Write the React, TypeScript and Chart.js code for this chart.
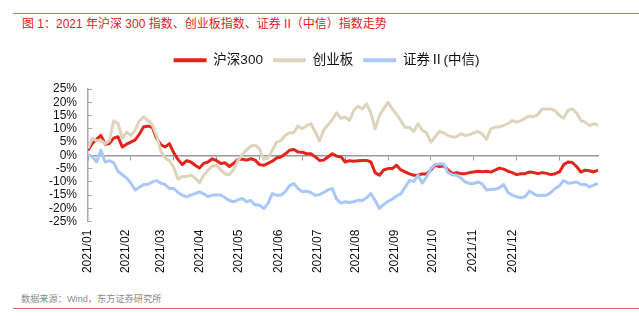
import React, { useEffect, useRef } from "react";
import { Chart, registerables } from "chart.js";

Chart.register(...registerables);

// x-axis: trading-day index (0..LAST_DAY), one sample every SAMPLE_STEP days
const LAST_DAY = 238;
const SAMPLE_STEP = 2;
const monthLabels = [
  "2021/01", "2021/02", "2021/03", "2021/04", "2021/05", "2021/06",
  "2021/07", "2021/08", "2021/09", "2021/10", "2021/11", "2021/12",
];
const monthLabelDays = [0, 17.5, 34, 52, 70.5, 89, 107, 125, 143, 161, 179.5, 198];
const zeroLineTickStep = 20;
const yTickValues = [-25, -20, -15, -10, -5, 0, 5, 10, 15, 20, 25];

const seriesNames = ["沪深300", "创业板", "证券Ⅱ(中信)"];

// cumulative change, %
const hs300 = [
  1.9, 4.5, 6, 7.5, 4.2, 4.5, 6.5, 7, 3.2, 4.2,
  5, 5.8, 8, 10.8, 11, 10.6, 6.5, 4, 3.2, 4.4,
  1, -1.5, -3.5, -2, -2.5, -3.75, -4.8, -3, -2.5, -1.3,
  -2, -3.1, -2.8, -4.2, -3, -1.5, -1.5, -1.8, -1.3, -1.8,
  -3.5, -3.75, -3, -2.2, -1, -0.6, 0.5, 1.9, 2.2, 1.3,
  1.2, 0.6, 0.6, -0.5, -1.9, -1.8, -0.6, 0.6, -0.3, -0.5,
  -2.5, -2, -2.2, -2, -1.9, -1.9, -2.5, -6.5, -7.5, -5.5,
  -5, -5, -3.75, -5.5, -6.25, -7, -7.5, -7.5, -7, -7,
  -5.5, -3.75, -4.2, -4, -5.5, -6.9, -6.5, -6.9, -6.9, -6.5,
  -6.25, -6, -6.2, -6, -6.3, -5.6, -4.8, -5.2, -6, -6.5,
  -7.25, -6.9, -6.9, -6.25, -6.5, -6.9, -6.5, -6.8, -7.25, -6.9,
  -6.25, -3.5, -2.5, -2.7, -4.2, -6.3, -5.6, -5.8, -6.25, -5.6,
];
const chinext = [
  2.6, 6.4, 5.5, 5.6, 4.4, 5.5, 13, 12, 6.5, 8.75,
  7.5, 9.4, 13, 14.5, 13.1, 11.5, 7.5, 1.5, -1, -2,
  -4.5, -9, -8, -8, -7.5, -8.5, -10.3, -7.5, -5.6, -4,
  -3.8, -5.5, -7, -7.3, -5.3, -1.9, 0.3, 2, 3.5, 3.8,
  2.5, -1.5, -1, 1.9, 5, 5.5, 7.5, 8.5, 8.5, 11,
  10, 11.2, 12, 9, 5.5, 9.5, 11.5, 13.5, 16, 14,
  14.5, 13.1, 16.9, 18.5, 17.5, 19.4, 16, 10, 15, 17.5,
  20, 17.5, 15.5, 13, 10.6, 10.5, 9, 11.9, 9.5, 8.5,
  5, 7, 9, 8.5, 7.5, 6.9, 7, 8.1, 7.5, 7.8,
  8.5, 9, 8, 6, 10, 10.6, 10.8, 11.25, 12, 13.1,
  12.5, 13.1, 14, 14.8, 14.5, 15.5, 17.5, 17.5, 17.5, 16.8,
  15, 14, 16.9, 17.5, 16, 13.1, 12.5, 11.25, 11.9, 11.5,
];
const securities2 = [
  0.3, -0.5, -2.5, 2, -2.5, -2, -2.8, -6, -7.3, -8.5,
  -10.5, -13, -12, -11, -10.9, -10, -9.5, -10.5, -11, -12.5,
  -12.5, -14, -15, -15.6, -15, -14.4, -13.8, -14.5, -15.5, -15,
  -14.8, -15, -16, -17, -17.5, -16.8, -16.25, -17.5, -17, -18.75,
  -18.75, -20, -18.1, -14.4, -15, -15, -13.75, -11.5, -10.6, -12.5,
  -13.75, -13.5, -14, -15, -14.8, -14, -13, -12.5, -16.5, -18,
  -17.5, -17.8, -17.5, -16.9, -17, -16, -14.4, -17, -20, -18.5,
  -17.3, -16.5, -15.3, -14.5, -12, -9.5, -9.8, -7.5, -10.5, -8.1,
  -5, -3.4, -3.3, -3.3, -6.5, -7.3, -7.5, -8.5, -10, -10.6,
  -10.6, -10, -10.8, -13.1, -12.8, -12.8, -12.2, -11, -14, -15,
  -15.6, -16, -15.5, -13.5, -14.5, -15.2, -15, -15, -14, -12.5,
  -11.5, -9.5, -10.5, -10.3, -10, -11, -11, -11.9, -11.2, -10.6,
];

const Y_MIN = -25;
const Y_MAX = 25;

const colors = ["#e3231c", "#ded3bb", "#a9c8f8"];
const FONT = "'Liberation Sans', 'Noto Sans CJK SC', Arial, sans-serif";

const toPoints = (vals: number[]) => vals.map((v, i) => ({ x: i * SAMPLE_STEP, y: v }));

const legendTweak = {
  id: "legendTweak",
  beforeInit(chart: any) {
    const orig = chart.legend.fit;
    chart.legend.fit = function () {
      orig.bind(chart.legend)();
      this.height += 12;
    };
  },
  afterLayout(chart: any) {
    const lg = chart.legend;
    if (lg) {
      lg.left += 19;
      lg.right += 19;
    }
  },
};

export default function App() {
  const ref = useRef<HTMLCanvasElement>(null);

  useEffect(() => {
    if (!ref.current) return;
    const all = [hs300, chinext, securities2];
    const chart = new Chart(ref.current, {
      type: "line",
      data: {
        datasets: all.map((vals, i) => ({
          label: seriesNames[i],
          data: toPoints(vals),
          borderColor: colors[i],
          backgroundColor: colors[i],
          borderWidth: 3,
          pointRadius: 0,
          tension: 0,
          borderJoinStyle: "round" as const,
          order: 3 - i,
        })),
      },
      options: {
        responsive: false,
        animation: false,
        layout: { padding: { top: 3.5, left: 17, right: 41, bottom: 0 } },
        plugins: {
          tooltip: { enabled: false },
          legend: {
            display: true,
            position: "top",
            labels: {
              boxWidth: 33,
              boxHeight: 4,
              padding: 10,
              color: "#111",
              font: { family: FONT, size: 13.5 },
              sort: (a: any, b: any) => a.datasetIndex - b.datasetIndex,
              generateLabels: (c: any) =>
                Chart.defaults.plugins.legend.labels
                  .generateLabels(c)
                  .map((l: any) => ({ ...l, lineWidth: 0 })),
            },
          },
        },
        scales: {
          x: {
            type: "linear",
            min: 0,
            max: LAST_DAY,
            position: "bottom",
            afterFit: (s: any) => {
              s.height = 68.3;
            },
            afterBuildTicks: (s: any) => {
              s.ticks = monthLabelDays.map((d) => ({ value: d }));
            },
            border: { display: false },
            grid: { display: false, drawTicks: false },
            ticks: {
              autoSkip: false,
              minRotation: 90,
              maxRotation: 90,
              padding: 8,
              color: "#111",
              font: { family: FONT, size: 12 },
              callback: (v: any) => monthLabels[monthLabelDays.indexOf(Number(v))] ?? "",
            },
          },
          x2: {
            type: "linear",
            min: 0,
            max: LAST_DAY,
            position: { y: 0 } as any,
            border: { display: true, color: "#9a9a9a", width: 1.5 },
            grid: {
              drawOnChartArea: false,
              drawTicks: true,
              tickLength: 4,
              color: "#9a9a9a",
              lineWidth: 1,
            },
            ticks: { display: false, stepSize: zeroLineTickStep, includeBounds: false },
          },
          y: {
            type: "linear",
            min: Y_MIN,
            max: Y_MAX,
            position: "left",
            afterFit: (s: any) => {
              s.width = 71;
            },
            afterBuildTicks: (s: any) => {
              s.ticks = yTickValues.map((v) => ({ value: v }));
            },
            border: { display: true, color: "#a8a8a8", width: 1.5 },
            grid: {
              drawOnChartArea: false,
              drawTicks: true,
              tickLength: -4,
              color: "#a8a8a8",
              lineWidth: 1,
            },
            ticks: {
              autoSkip: false,
              padding: 15,
              color: "#111",
              font: { family: FONT, size: 12 },
              callback: (v: any) => `${v}%`,
            },
          },
        },
      },
      plugins: [legendTweak],
    });
    return () => chart.destroy();
  }, []);

  return (
    <div
      style={{
        position: "absolute",
        left: 0,
        top: 0,
        width: 639,
        height: 325,
        background: "#fff",
        overflow: "hidden",
      }}
    >
      <div
        style={{
          position: "absolute",
          left: 13,
          right: 0,
          top: 13,
          borderTop: "1px solid #e66a66",
        }}
      />
      <div
        style={{
          position: "absolute",
          left: 22,
          top: 15,
          fontFamily: FONT,
          fontSize: 12,
          lineHeight: "18px",
          color: "#e3211b",
          whiteSpace: "nowrap",
        }}
      >
        图 1：2021 年沪深 300 指数、创业板指数、证券 II（中信）指数走势
      </div>
      <canvas
        ref={ref}
        width={639}
        height={250}
        style={{ position: "absolute", left: 0, top: 40, width: 639, height: 250 }}
      />
      <div
        style={{
          position: "absolute",
          left: 21,
          top: 292,
          fontFamily: FONT,
          fontSize: 9.2,
          lineHeight: "14px",
          color: "#8a8a8a",
          whiteSpace: "nowrap",
        }}
      >
        数据来源：Wind，东方证券研究所
      </div>
      <div
        style={{
          position: "absolute",
          left: 13,
          right: 0,
          top: 308,
          borderTop: "1px solid #e66a66",
        }}
      />
    </div>
  );
}
